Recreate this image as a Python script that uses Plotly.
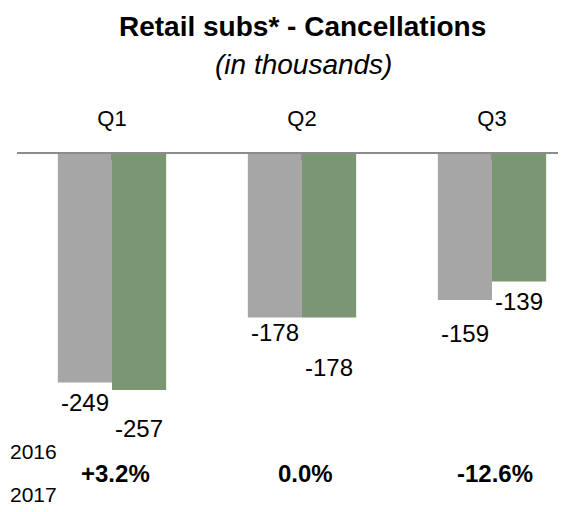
import plotly.graph_objects as go

# ---- data ----
quarters = ["Q1", "Q2", "Q3"]
series_names = ["2016", "2017"]
cancel_2016 = [-249, -178, -159]
cancel_2017 = [-257, -178, -139]
yoy_change = ["+3.2%", "0.0%", "-12.6%"]
title_text = "Retail subs* - Cancellations"
subtitle_text = "(in thousands)"

# ---- styling / layout constants ----
PAGE_OFF = 8                      # default body margin of the html page
W, H = 566 - PAGE_OFF, 512 - PAGE_OFF
M_L, M_T = 17 - PAGE_OFF, 154 - PAGE_OFF
PLOT_W, PLOT_H = W - M_L, H - M_T
CAT_PX = 190.0
PX_PER_UNIT = 0.918
GRAY = "#A6A6A6"
GREEN = "#7B9673"
BASE_FONT = "Liberation Sans, Arial, sans-serif"
drop_2016 = [20, 15, 34]   # px from bar end to label centre
drop_2017 = [39, 50, 20]
BAR_HALF_PX = 27

x_hi = -0.5 + PLOT_W / CAT_PX
y_lo = -PLOT_H / PX_PER_UNIT


def py(ypage):
    return (H - (ypage - PAGE_OFF)) / PLOT_H


def px(xpage):
    return (xpage - PAGE_OFF - M_L) / PLOT_W


fig = go.Figure()
fig.add_trace(go.Bar(x=list(range(len(quarters))), y=cancel_2016, name=series_names[0],
                     marker=dict(color=GRAY, line=dict(width=0))))
fig.add_trace(go.Bar(x=list(range(len(quarters))), y=cancel_2017, name=series_names[1],
                     marker=dict(color=GREEN, line=dict(width=0))))

ann = []
for i, (a, b) in enumerate(zip(cancel_2016, cancel_2017)):
    ann.append(dict(x=i, y=a, xref="x", yref="y", text=str(a), showarrow=False,
                    xshift=-BAR_HALF_PX, yshift=-drop_2016[i], yanchor="middle",
                    font=dict(family=BASE_FONT, size=24, color="#000")))
    ann.append(dict(x=i, y=b, xref="x", yref="y", text=str(b), showarrow=False,
                    xshift=BAR_HALF_PX, yshift=-drop_2017[i], yanchor="middle",
                    font=dict(family=BASE_FONT, size=24, color="#000")))
    ann.append(dict(x=i, y=py(473), xref="x", yref="paper", text="<b>%s</b>" % yoy_change[i],
                    showarrow=False, xshift=3, yanchor="middle",
                    font=dict(family=BASE_FONT, size=24, color="#000")))

# legend texts at the left edge
for name, ypix in zip(series_names, [451, 494]):
    ann.append(dict(x=px(PAGE_OFF), y=py(ypix), xref="paper", yref="paper", text=name,
                    showarrow=False, xanchor="left", yanchor="middle",
                    font=dict(family=BASE_FONT, size=21, color="#000")))

ann.append(dict(x=px(302), y=py(27), xref="paper", yref="paper",
                text="<b>%s</b>" % title_text, showarrow=False, yanchor="middle",
                font=dict(family=BASE_FONT, size=28, color="#000")))
ann.append(dict(x=px(303), y=py(64), xref="paper", yref="paper",
                text="<i>%s</i>" % subtitle_text, showarrow=False, yanchor="middle",
                font=dict(family=BASE_FONT, size=28, color="#000")))

fig.update_layout(
    width=W, height=H,
    margin=dict(l=M_L, r=0, t=M_T, b=0, autoexpand=False),
    paper_bgcolor="white", plot_bgcolor="white",
    barmode="group", bargap=0.43, bargroupgap=0,
    showlegend=False,
    annotations=ann,
)
fig.update_xaxes(
    side="top", range=[-0.5, x_hi], automargin=False,
    tickmode="array", tickvals=list(range(len(quarters))), ticktext=quarters,
    tickfont=dict(family=BASE_FONT, size=22, color="#000"),
    showline=True, linecolor="#8C8C8C", linewidth=1.5,
    ticks="inside", ticklen=6, tickcolor="#8C8C8C", tickwidth=1.5,
    tickson="boundaries", showgrid=False, zeroline=False,
    ticklabelstandoff=17,
)
fig.update_yaxes(range=[y_lo, 0], visible=False, showgrid=False, zeroline=False,
                 automargin=False)

fig.write_html("out.html")
